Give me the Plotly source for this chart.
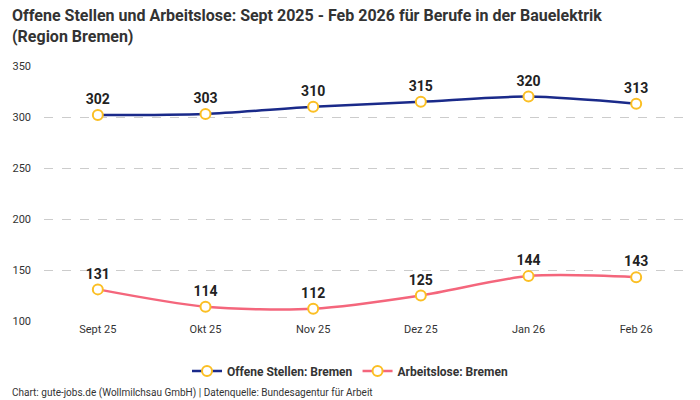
import plotly.graph_objects as go

# Monate und Werte (Region Bremen, Bauelektrik)
months = ["Sept 25", "Okt 25", "Nov 25", "Dez 25", "Jan 26", "Feb 26"]
offene_stellen = [302, 303, 310, 315, 320, 313]
arbeitslose = [131, 114, 112, 125, 144, 143]

y_ticks = [100, 150, 200, 250, 300, 350]

TITLE = "Offene Stellen und Arbeitslose: Sept 2025 - Feb 2026 für Berufe in der Bauelektrik<br>(Region Bremen)"
SOURCE = "Chart: gute-jobs.de (Wollmilchsau GmbH) | Datenquelle: Bundesagentur für Arbeit"

FONT = "Roboto"
MARKER_COLOR = "#fbbf24"


def add_series(fig, values, name, color):
    fig.add_trace(
        go.Scatter(
            x=months,
            y=values,
            name=name,
            mode="lines+markers+text",
            line=dict(color=color, width=2.5, shape="spline", smoothing=0.8),
            marker=dict(size=10, color="white", line=dict(color=MARKER_COLOR, width=2)),
            text=[str(v) for v in values],
            textposition="top center",
            textfont=dict(family=FONT, size=14, color="#222222", weight="bold"),
            cliponaxis=False,
        )
    )


fig = go.Figure()
add_series(fig, offene_stellen, "Offene Stellen: Bremen", "#1a2a8a")
add_series(fig, arbeitslose, "Arbeitslose: Bremen", "#f4667c")

fig.update_layout(
    width=700,
    height=400,
    margin=dict(l=44, r=10, t=66, b=79, autoexpand=False),
    paper_bgcolor="white",
    plot_bgcolor="white",
    font=dict(family=FONT, color="#333333"),
    xaxis=dict(
        type="category",
        range=[-0.5, 5.5],
        showgrid=False,
        showline=False,
        zeroline=False,
        tickangle=0,
        tickfont=dict(size=11, color="#333333"),
    ),
    yaxis=dict(
        range=[100, 350],
        tickvals=y_ticks,
        showgrid=True,
        gridcolor="#cccccc",
        griddash="dash",
        gridwidth=1,
        zeroline=False,
        showline=False,
        ticklabelstandoff=12,
        tickfont=dict(size=11, color="#333333"),
    ),
    legend=dict(
        orientation="h",
        x=0.4737,
        xanchor="center",
        y=-0.196,
        yanchor="middle",
        font=dict(family=FONT, size=12, color="#333333", weight="bold"),
        itemwidth=30,
    ),
    annotations=[
        # title, two lines, left aligned
        dict(
            text=TITLE,
            xref="paper",
            yref="paper",
            x=-0.0526,
            xanchor="left",
            align="left",
            y=1.245,
            yanchor="top",
            showarrow=False,
            font=dict(family=FONT, size=16, color="#333333", weight="bold"),
        ),
        dict(
            text=SOURCE,
            xref="paper",
            yref="paper",
            x=-0.0526,
            xanchor="left",
            y=-0.282,
            yanchor="middle",
            showarrow=False,
            font=dict(family=FONT, size=10, color="#333333"),
        ),
    ],
)

# page has a default body margin, drop it so the figure sits at the top-left corner
fig.write_html(
    "out.html",
    config={"displayModeBar": False},
    post_script="document.body.style.margin='0';",
)
